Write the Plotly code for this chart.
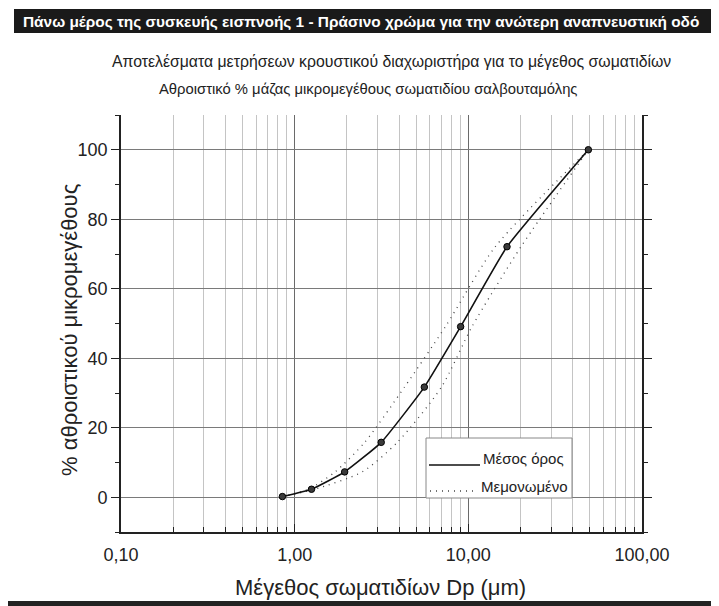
import plotly.graph_objects as go

# ---- data ----
mean_x = [0.85, 1.25, 1.94, 3.15, 5.58, 9.03, 16.7, 49.1]
mean_y = [0.2, 2.3, 7.3, 15.8, 31.7, 49.1, 72.1, 100.0]

ind1_x = [0.85, 1.2, 1.71, 2.53, 4.29, 7.38, 14.3, 49.1]
ind1_y = [0.2, 2.3, 7.3, 15.8, 31.7, 49.1, 72.1, 100.0]

ind2_x = [0.85, 1.3, 2.45, 3.9, 7.0, 10.5, 20.1, 49.1]
ind2_y = [0.2, 2.3, 7.3, 15.8, 31.7, 49.1, 72.1, 100.0]

x_tickvals = [0.1, 1, 10, 100]
x_ticktext = ["0,10", "1,00", "10,00", "100,00"]
x_minor = [m * d for d in (0.1, 1, 10) for m in range(2, 10)]
y_tickvals = [0, 20, 40, 60, 80, 100]
y_minor = [-10, 10, 30, 50, 70, 90, 110]

banner_text = "Πάνω μέρος της συσκευής εισπνοής 1 - Πράσινο χρώμα για την ανώτερη αναπνευστική οδό"
title_text = "Αποτελέσματα μετρήσεων κρουστικού διαχωριστήρα για το μέγεθος σωματιδίων"
subtitle_text = "Αθροιστικό % μάζας μικρομεγέθους σωματιδίου σαλβουταμόλης"
x_title = "Μέγεθος σωματιδίων Dp (μm)"
y_title = "% αθροιστικού μικρομεγέθους"
legend_labels = ["Μέσος όρος", "Μεμονωμένο"]

# ---- layout geometry (page pixel coordinates; the page body has an 8px margin) ----
OFF = 8
W, H = 719 - OFF, 606 - OFF
L, R, T, B = 121 - OFF, 77, 115 - OFF, 74
PW, PH = W - L - R, H - T - B

def px(x):
    return (x - OFF - L) / PW

def py(y):
    return (H - B - (y - OFF)) / PH

FONT = "Liberation Sans, Arial, sans-serif"

fig = go.Figure()

dot_style = dict(color="#444", width=1.3, dash="1px,5px", shape="spline", smoothing=0.7)
fig.add_trace(go.Scatter(x=ind1_x, y=ind1_y, mode="lines", line=dot_style,
                         showlegend=False, hoverinfo="skip"))
fig.add_trace(go.Scatter(x=ind2_x, y=ind2_y, mode="lines", line=dot_style,
                         showlegend=False, hoverinfo="skip"))
fig.add_trace(go.Scatter(x=mean_x, y=mean_y, mode="lines+markers",
                         line=dict(color="#111", width=1.6, shape="spline", smoothing=0.4),
                         marker=dict(size=6.5, color="#3a3a3a", line=dict(color="#000", width=1)),
                         showlegend=False))

fig.update_xaxes(
    type="log", range=[-1, 2],
    tickmode="array", tickvals=x_tickvals, ticktext=x_ticktext,
    ticks="inside", ticklen=8, tickwidth=1.2, tickcolor="#222",
    showline=True, linecolor="#222", linewidth=1.6, mirror=False,
    showgrid=True, gridcolor="#6a6a6a", gridwidth=1,
    minor=dict(tickmode="array", tickvals=x_minor, ticks="inside", ticklen=5,
               tickcolor="#222", showgrid=True, gridcolor="#c4c4c4", gridwidth=1),
    tickfont=dict(family=FONT, size=18, color="#222"),
    ticklabelstandoff=6,
    zeroline=False,
)
fig.update_yaxes(
    range=[-10, 110],
    tickmode="array", tickvals=y_tickvals,
    ticks="outside", ticklen=8, tickwidth=1.2, tickcolor="#222",
    showline=True, linecolor="#222", linewidth=1.6, mirror="ticks",
    showgrid=True, gridcolor="#7a7a7a", gridwidth=1,
    minor=dict(tickmode="array", tickvals=y_minor, ticks="outside", ticklen=4,
               tickcolor="#222", showgrid=False),
    tickfont=dict(family=FONT, size=18, color="#222"),
    zeroline=False,
)

shapes = [
    # banner
    dict(type="rect", xref="paper", yref="paper", x0=px(14), x1=px(712), y0=py(33), y1=py(9),
         fillcolor="#1a1a1a", line=dict(width=0), layer="above"),
    # bottom rule
    dict(type="rect", xref="paper", yref="paper", x0=px(0), x1=px(712), y0=py(606), y1=py(601),
         fillcolor="#222", line=dict(width=0), layer="above"),
    # legend box
    dict(type="rect", xref="paper", yref="paper", x0=px(426), x1=px(572), y0=py(498), y1=py(438),
         fillcolor="white", line=dict(color="#888", width=1), layer="above"),
    dict(type="line", xref="paper", yref="paper", x0=px(429), x1=px(480), y0=py(465), y1=py(465),
         line=dict(color="#111", width=1.6), layer="above"),
    dict(type="line", xref="paper", yref="paper", x0=px(430), x1=px(478), y0=py(491), y1=py(491),
         line=dict(color="#444", width=1.5, dash="1px,5px"), layer="above"),
]

annotations = [
    dict(text="<b>" + banner_text + "</b>", xref="paper", yref="paper", x=px(21), y=py(21),
         xanchor="left", yanchor="middle", showarrow=False,
         font=dict(family=FONT, size=15.4, color="white")),
    dict(text=title_text, xref="paper", yref="paper", x=px(391), y=py(62), xanchor="center",
         yanchor="middle", showarrow=False, font=dict(family=FONT, size=15.8, color="#222")),
    dict(text=subtitle_text, xref="paper", yref="paper", x=px(368), y=py(89), xanchor="center",
         yanchor="middle", showarrow=False, font=dict(family=FONT, size=14.8, color="#222")),
    dict(text=x_title, xref="paper", yref="paper", x=px(380), y=py(587), xanchor="center",
         yanchor="middle", showarrow=False, font=dict(family=FONT, size=22, color="#222")),
    dict(text=y_title, xref="paper", yref="paper", x=px(69), y=py(330), xanchor="center",
         yanchor="middle", textangle=-90, showarrow=False, font=dict(family=FONT, size=22, color="#222")),
    dict(text=legend_labels[0], xref="paper", yref="paper", x=px(481), y=py(458), xanchor="left",
         yanchor="middle", showarrow=False, font=dict(family=FONT, size=15, color="#222")),
    dict(text=legend_labels[1], xref="paper", yref="paper", x=px(479), y=py(486), xanchor="left",
         yanchor="middle", showarrow=False, font=dict(family=FONT, size=15, color="#222")),
]

fig.update_layout(
    width=W, height=H,
    margin=dict(l=L, r=R, t=T, b=B),
    paper_bgcolor="white", plot_bgcolor="white",
    shapes=shapes, annotations=annotations,
    showlegend=False,
)

fig.write_html("out.html")
